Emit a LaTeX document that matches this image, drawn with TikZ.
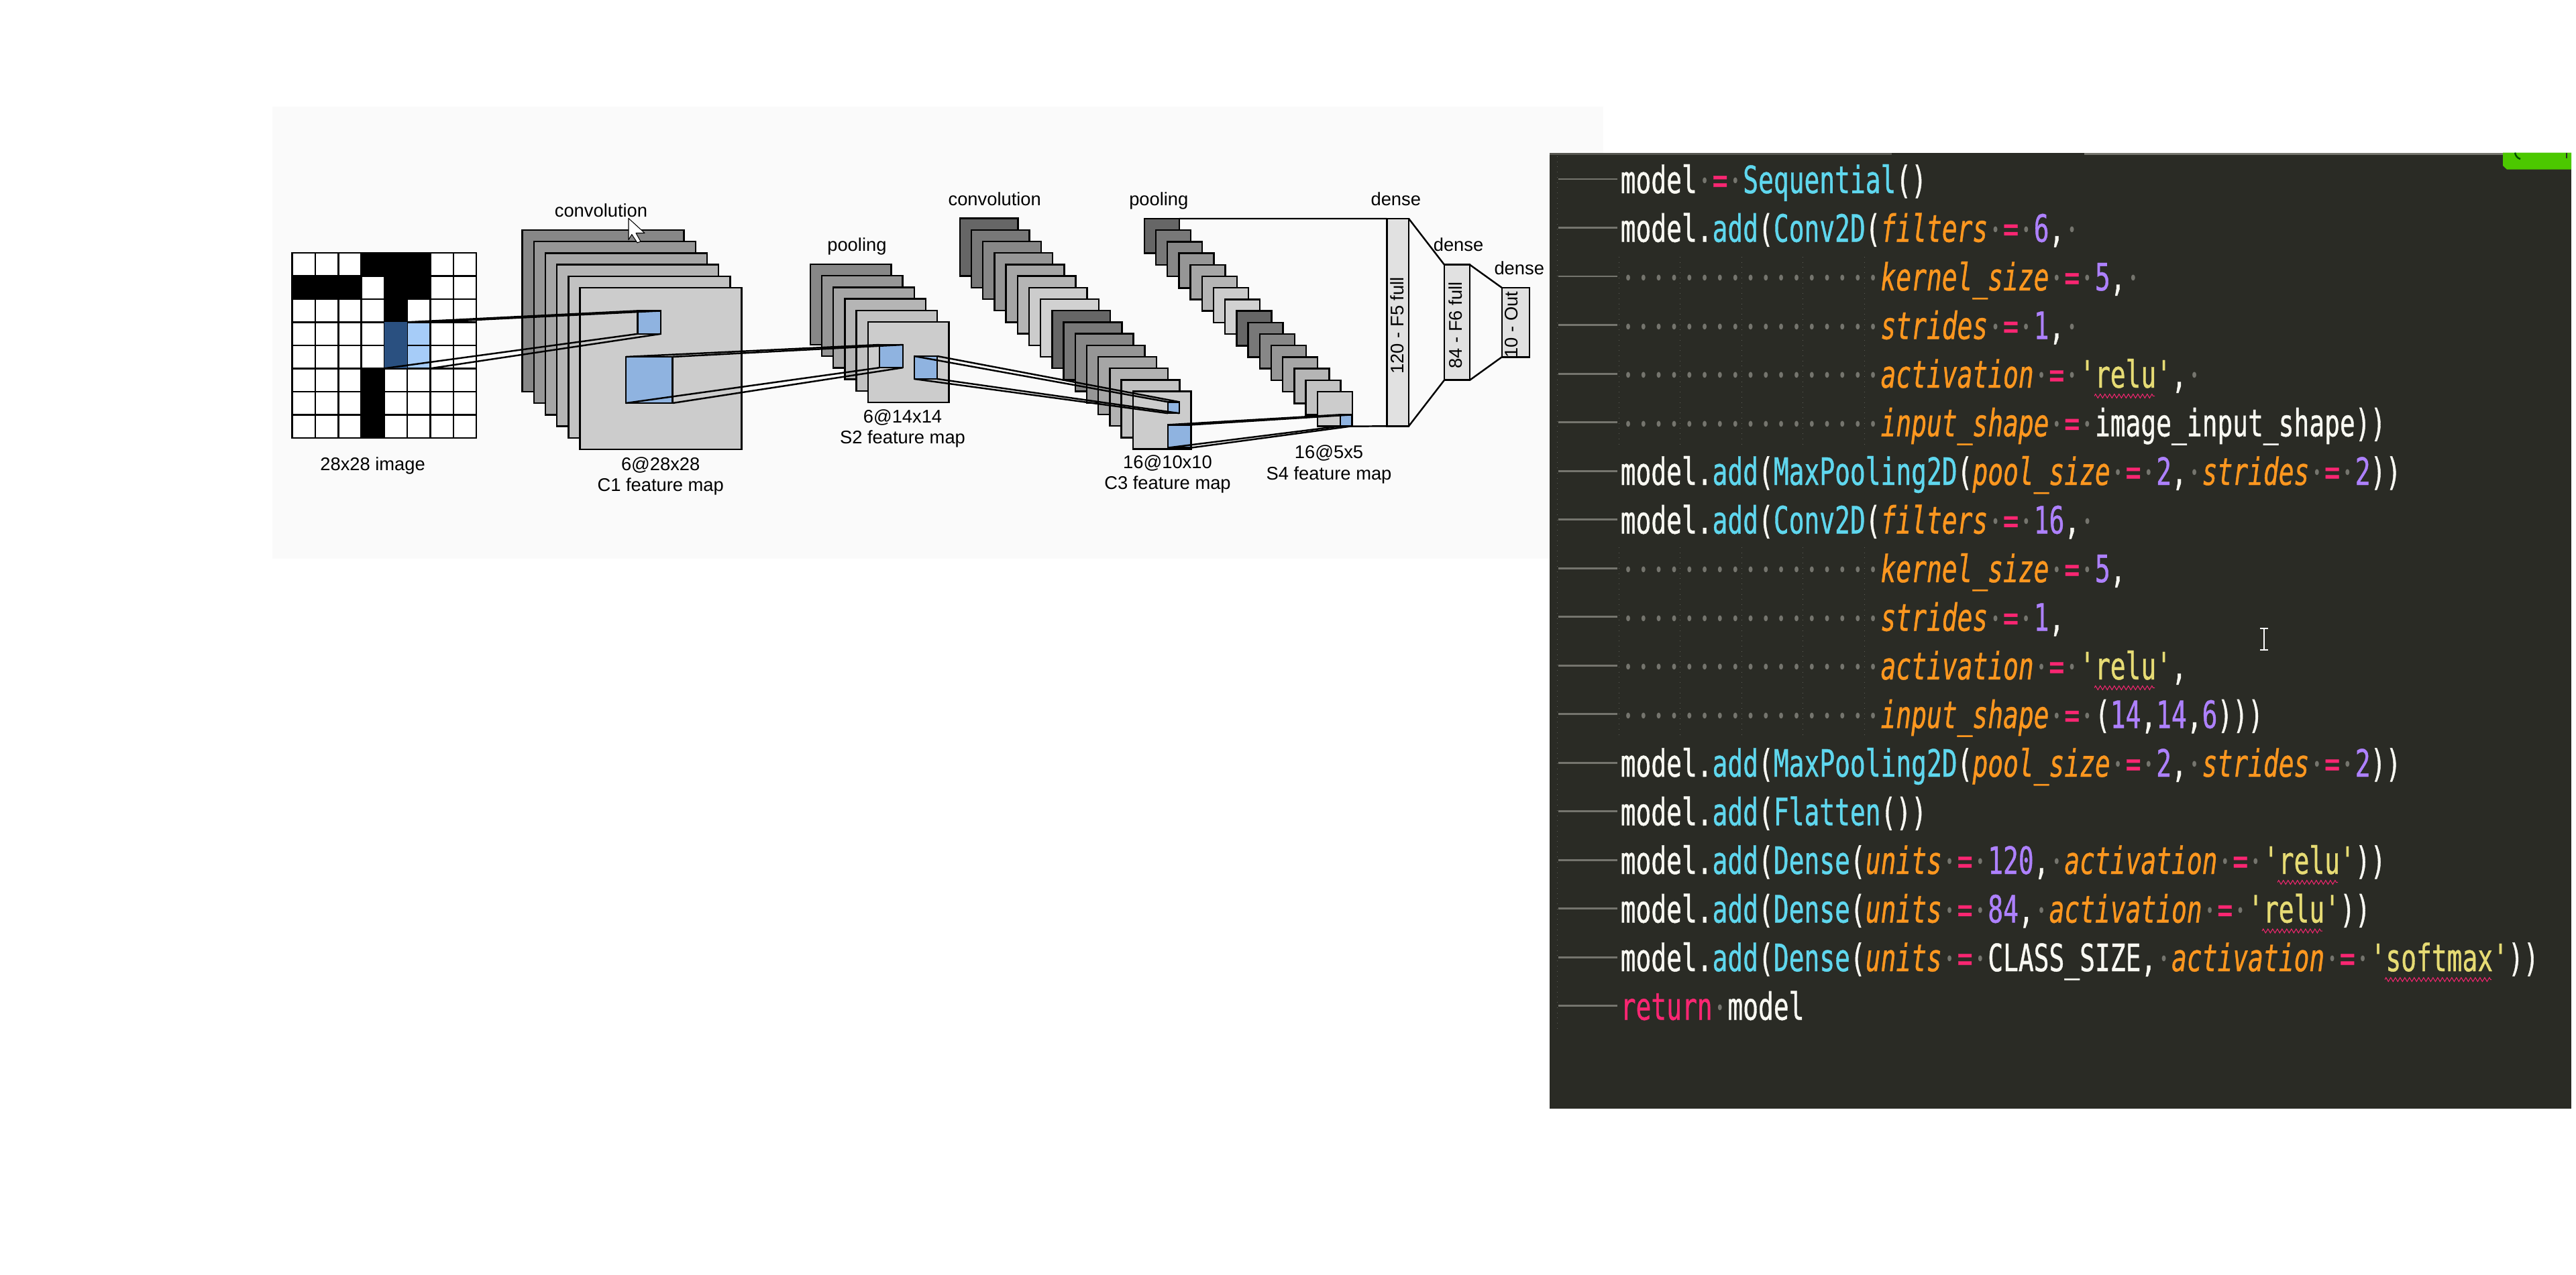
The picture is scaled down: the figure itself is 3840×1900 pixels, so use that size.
\documentclass[tikz,border=0pt]{standalone}
\usepackage{fontspec}
\usetikzlibrary{decorations.pathmorphing}
\setmainfont{Liberation Sans}
\newfontfamily\codefont[FakeStretch=0.6735,FakeBold=0.7]{DejaVu Sans Mono}
\newfontfamily\dotfont[FakeStretch=0.6735]{DejaVu Sans Mono}
\definecolor{panelbg}{HTML}{FAFAFA}
\definecolor{patch}{HTML}{8FB3E0}
\definecolor{darkcell}{HTML}{2A5080}
\definecolor{lightcell}{HTML}{A6CCF8}
\definecolor{densefill}{HTML}{E1E1E1}
\definecolor{codebg}{HTML}{2A2B25}
\definecolor{guidegray}{HTML}{75756E}
\definecolor{cW}{HTML}{F8F8F2}
\definecolor{cC}{HTML}{5FD7EE}
\definecolor{cO}{HTML}{FD971F}
\definecolor{cP}{HTML}{F92672}
\definecolor{cV}{HTML}{AE81FF}
\definecolor{cY}{HTML}{E6DB74}
\definecolor{tabgreen}{HTML}{4CC800}
\tikzset{
  boxs/.style={draw=black,line width=0.7pt,inner sep=0pt,outer sep=0pt,rectangle},
  link/.style={draw=black,line width=0.7pt},
  lab/.style={anchor=base,inner sep=0pt,font=\fontsize{7.77}{9}\selectfont},
  vlab/.style={rotate=90,inner sep=0pt,font=\fontsize{7.77}{9}\selectfont},
  codeline/.style={anchor=base west,inner sep=0pt,text=cW,font=\codefont\fontsize{16}{16}\selectfont},
  guide/.style={draw=guidegray,line width=0.85pt},
  indentrule/.style={draw=guidegray!70!codebg,line width=0.2pt,dotted},
  squiggle/.style={draw=cP,line width=0.28pt,decorate,decoration={zigzag,segment length=0.07cm,amplitude=0.03cm}}
}
\newcommand\rbox[6]{%
  \pgfmathsetmacro\rw{(#4-#2)*0.01}\pgfmathsetmacro\rh{(#5-#3)*0.01}%
  \pgfmathsetmacro\rx{(#2+#4)/2}\pgfmathsetmacro\ry{(#3+#5)/2}%
  \node[boxs,fill=#6,minimum width=\rw cm,minimum height=\rh cm] (#1) at (\rx,\ry) {};}
% name, x0, y0, w, h, list of gray levels
\newcommand\layers[6]{%
  \foreach \g [count=\i from 0] in {#6} {
    \pgfmathsetmacro\xa{#2+17.2*\i}\pgfmathsetmacro\ya{#3+17.2*\i}%
    \pgfmathsetmacro\xb{\xa+#4}\pgfmathsetmacro\yb{\ya+#5}%
    \rbox{#1\i}{\xa}{\ya}{\xb}{\yb}{white!\g!black}
  }}
\newcommand\dt{\makebox[6.487pt][c]{\raisebox{2.1pt}{\dotfont\upshape\fontsize{8.5}{8.5}\selectfont\color{guidegray}•}}}
\newcommand\ind{\dt\dt\dt\dt\dt\dt\dt\dt\dt\dt\dt\dt\dt\dt\dt\dt\dt}
\newcommand\kw[1]{{\itshape\color{cO}#1}}
\newcommand\fn[1]{{\color{cC}#1}}
\newcommand\eqs{\dt{\color{cP}=}\dt}
\newcommand\nm[1]{{\color{cV}#1}}
\newcommand\st[1]{{\color{cY}#1}}
\newcommand\madd{model.\fn{add}(}
\begin{document}
\begin{tikzpicture}[x=0.01cm,y=-0.01cm]
\useasboundingbox (0,0) rectangle (3840,1900);
\fill[white] (0,0) rectangle (3840,1900);
\fill[panelbg] (406,159) rectangle (2390,833);

% input grid
\foreach \r in {0,...,7}{\foreach \c in {0,...,7}{
  \pgfmathsetmacro\xa{435.7+34.3*\c}\pgfmathsetmacro\ya{376.8+34.5*\r}
  \pgfmathsetmacro\xb{\xa+34.3}\pgfmathsetmacro\yb{\ya+34.5}
  \rbox{g\r\c}{\xa}{\ya}{\xb}{\yb}{white}
}}
\foreach \r/\c in {0/3,0/4,0/5,1/0,1/1,1/2,1/4,1/5,2/4,5/3,6/3,7/3}{
  \pgfmathsetmacro\xa{435.7+34.3*\c}\pgfmathsetmacro\ya{376.8+34.5*\r}
  \pgfmathsetmacro\xb{\xa+34.3}\pgfmathsetmacro\yb{\ya+34.5}
  \rbox{k\r\c}{\xa}{\ya}{\xb}{\yb}{black}
}
\foreach \r in {3,4}{
  \pgfmathsetmacro\ya{376.8+34.5*\r}\pgfmathsetmacro\yb{\ya+34.5}
  \rbox{lc\r}{607.2}{\ya}{641.5}{\yb}{lightcell}
}
\fill[darkcell] (572.9,480.3) rectangle (607.2,549.3);

% feature map stacks
\layers{ca}{778.6}{343}{241}{241}{53,59,65,71,76,80}
\layers{sa}{1207.8}{394}{120.6}{120}{53,59,65,71,76,80}
\layers{cb}{1430.8}{325.6}{86.7}{86}{40,47,53,59,65,71,80,82,40,47,53,59,65,70,76,80}
\layers{sb}{1705.8}{326}{52}{51.7}{40,47,53,59,65,71,80,82,40,47,53,59,65,71,76,80}

% patches
\rbox{p1}{950.5}{463.4}{985.2}{497.8}{patch}
\rbox{p2}{933.2}{532}{1002.6}{601}{patch}
\rbox{p3}{1311}{514}{1345.8}{548.2}{patch}
\rbox{p4}{1362.8}{531}{1397.2}{565}{patch}
\rbox{p5}{1741}{599.3}{1758}{616.2}{patch}
\rbox{p6}{1741}{633.4}{1775.4}{667.6}{patch}
\rbox{p7}{1998.2}{618.3}{2015.6}{635.3}{patch}

% dense layers
\rbox{fa}{2067.4}{326}{2100}{635.3}{densefill}
\rbox{fb}{2153}{394.7}{2191}{566.7}{densefill}
\rbox{fc}{2238.8}{429}{2280}{532.3}{densefill}
\node[vlab] (ta) at (2083,485.3) {120 - F5 full};
\node[vlab] (tb) at (2170,485) {84 - F6 full};
\node[vlab] (tc) at (2252.7,484) {10 - Out};

% connectors
\draw[link] (g35.north west) -- (p1.north west);
\draw[link] (g35.north east) -- (p1.north east);
\draw[link] (g44.south west) -- (p1.south west);
\draw[link] (g45.south east) -- (p1.south east);
\draw[link] (p2.north west) -- (p3.north west);
\draw[link] (p2.north east) -- (p3.north east);
\draw[link] (p2.south west) -- (p3.south west);
\draw[link] (p2.south east) -- (p3.south east);
\draw[link] (p4.north west) -- (p5.north west);
\draw[link] (p4.north east) -- (p5.north east);
\draw[link] (p4.south west) -- (p5.south west);
\draw[link] (p4.south east) -- (p5.south east);
\draw[link] (p6.north west) -- (p7.north west);
\draw[link] (p6.north east) -- (p7.north east);
\draw[link] (p6.south west) -- (p7.south west);
\draw[link] (p6.south east) -- (p7.south east);
\draw[link] (sb0.north east) -- (fa.north west);
\draw[link] (sb15.south east) -- (fa.south west);
\draw[link] (fa.north east) -- (fb.north west);
\draw[link] (fa.south east) -- (fb.south west);
\draw[link] (fb.north east) -- (fc.north west);
\draw[link] (fb.south east) -- (fc.south west);

% labels
\node[lab] (l1) at (896,323) {convolution};
\node[lab] (l2) at (555.6,701) {28x28 image};
\node[lab] (l3) at (984.7,701) {6@28x28};
\node[lab] (l4) at (984.7,732) {C1 feature map};
\node[lab] (l5) at (1277.4,374.5) {pooling};
\node[lab] (l6) at (1345.5,630) {6@14x14};
\node[lab] (l7) at (1345.5,661.5) {S2 feature map};
\node[lab] (l8) at (1482.7,306.5) {convolution};
\node[lab] (l9) at (1740.5,698) {16@10x10};
\node[lab] (l10) at (1740.5,729.5) {C3 feature map};
\node[lab] (l11) at (1727.3,306.5) {pooling};
\node[lab] (l12) at (1981,683) {16@5x5};
\node[lab] (l13) at (1981,715) {S4 feature map};
\node[lab] (l14) at (2080.8,306.5) {dense};
\node[lab] (l15) at (2174,374.5) {dense};
\node[lab] (l16) at (2264.7,409) {dense};

% mouse pointer
\draw[fill=white,draw=black,line width=0.3pt,line join=round]
  (937,325.5) -- (937,357.6) -- (941.8,349.5) -- (950,362) -- (955,360) -- (948,347.5) -- (961,347.5) -- cycle;

% code panel
\fill[codebg] (2310,227.7) rectangle (3833,1653);
\fill[guidegray!60!codebg] (2310,227.7) rectangle (2820,231);
\fill[guidegray] (3107,227.7) rectangle (3731,231);
\fill[tabgreen] (3731,227.7) -- (3731,247) -- (3737,252.7) -- (3833,252.7) -- (3833,227.7) -- cycle;
\draw[draw=green!30!black,line width=0.7pt] (3749,227.7) .. controls (3750,233) and (3753,236) .. (3757,237);
\draw[draw=codebg,line width=0.5pt] (3826,227.7) -- (3826,236);

% guides
\draw[indentrule] (2321.6,233) -- (2321.6,1535);
\foreach \xx in {2413,2504,2596.7,2687,2779}{
  \draw[indentrule] (\xx,383) -- (\xx,664);
  \draw[indentrule] (\xx,816) -- (\xx,1100.6);
}
\foreach \i in {0,...,17}{
  \pgfmathsetmacro\gy{267+72.5*\i}
  \draw[guide] (2322.6,\gy) -- (2411,\gy);
}

% code lines
\node[codeline] (c0) at (2415,288) {model\eqs\fn{Sequential}()};
\node[codeline] (c1) at (2415,360.5) {\madd\fn{Conv2D}(\kw{filters}\eqs\nm{6},\dt};
\node[codeline] (c2) at (2415,433) {\ind\kw{kernel\_size}\eqs\nm{5},\dt};
\node[codeline] (c3) at (2415,505.5) {\ind\kw{strides}\eqs\nm{1},\dt};
\node[codeline] (c4) at (2415,578) {\ind\kw{activation}\eqs\st{'relu'},\dt};
\node[codeline] (c5) at (2415,650.5) {\ind\kw{input\_shape}\eqs image\_input\_shape))};
\node[codeline] (c6) at (2415,723) {\madd\fn{MaxPooling2D}(\kw{pool\_size}\eqs\nm{2},\dt\kw{strides}\eqs\nm{2}))};
\node[codeline] (c7) at (2415,795.5) {\madd\fn{Conv2D}(\kw{filters}\eqs\nm{16},\dt};
\node[codeline] (c8) at (2415,868) {\ind\kw{kernel\_size}\eqs\nm{5},};
\node[codeline] (c9) at (2415,940.5) {\ind\kw{strides}\eqs\nm{1},};
\node[codeline] (c10) at (2415,1013) {\ind\kw{activation}\eqs\st{'relu'},};
\node[codeline] (c11) at (2415,1085.5) {\ind\kw{input\_shape}\eqs(\nm{14},\nm{14},\nm{6})))};
\node[codeline] (c12) at (2415,1158) {\madd\fn{MaxPooling2D}(\kw{pool\_size}\eqs\nm{2},\dt\kw{strides}\eqs\nm{2}))};
\node[codeline] (c13) at (2415,1230.5) {\madd\fn{Flatten}())};
\node[codeline] (c14) at (2415,1303) {\madd\fn{Dense}(\kw{units}\eqs\nm{120},\dt\kw{activation}\eqs\st{'relu'}))};
\node[codeline] (c15) at (2415,1375.5) {\madd\fn{Dense}(\kw{units}\eqs\nm{84},\dt\kw{activation}\eqs\st{'relu'}))};
\node[codeline] (c16) at (2415,1448) {\madd\fn{Dense}(\kw{units}\eqs CLASS\_SIZE,\dt\kw{activation}\eqs\st{'softmax'}))};
\node[codeline,text=cW] (c17) at (2415,1520.5) {{\color{cP}return}\dt model};

% squiggles
\draw[squiggle] (3122,590.5) -- (3212,590.5);
\draw[squiggle] (3122,1025.5) -- (3212,1025.5);
\draw[squiggle] (3395,1315.5) -- (3485,1315.5);
\draw[squiggle] (3372,1388) -- (3462,1388);
\draw[squiggle] (3555,1460.5) -- (3714,1460.5);

% text cursor
\draw[draw=white,line width=0.6pt] (3374.7,937) -- (3374.7,969);
\draw[draw=white,line width=0.6pt] (3369,937) -- (3381,937);
\draw[draw=white,line width=0.6pt] (3369,969) -- (3381,969);
\end{tikzpicture}
\end{document}
